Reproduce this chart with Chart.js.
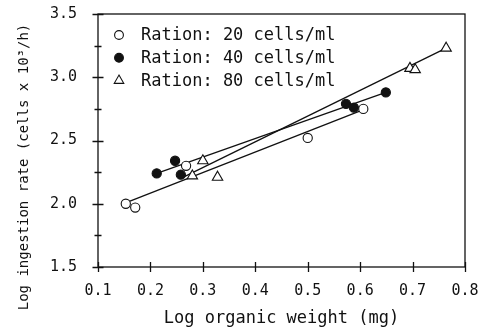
<!DOCTYPE html>
<html>
<head>
<meta charset="utf-8">
<title>Log ingestion rate vs log organic weight</title>
<script src="https://cdn.jsdelivr.net/npm/chart.js@4.4.0/dist/chart.umd.min.js"></script>
<style>
  html, body { margin: 0; padding: 0; background: #fff; }
</style>
</head>
<body>
<canvas id="chart" width="483" height="329"></canvas>
<script>
// --- data ---
const ration20X = [0.153, 0.171, 0.268, 0.500, 0.606];
const ration20Y = [2.00, 1.97, 2.30, 2.52, 2.75];

const ration40X = [0.212, 0.247, 0.258, 0.573, 0.588, 0.649];
const ration40Y = [2.24, 2.34, 2.23, 2.79, 2.76, 2.88];

const ration80X = [0.280, 0.300, 0.328, 0.695, 0.705, 0.764];
const ration80Y = [2.22, 2.34, 2.21, 3.07, 3.06, 3.23];

// regression line end points (x, y pairs)
const fit20X = [0.161, 0.604];
const fit20Y = [2.02, 2.74];
const fit40X = [0.212, 0.649];
const fit40Y = [2.24, 2.88];
const fit80X = [0.258, 0.764];
const fit80Y = [2.20, 3.23];

const seriesLabels = [
  "Ration: 20 cells/ml",
  "Ration: 40 cells/ml",
  "Ration: 80 cells/ml",
];
const xTitle = "Log organic weight (mg)";
const yTitle = "Log ingestion rate (cells x 10\u00b3/h)";

const xTicks = { min: 0.1, max: 0.8, step: 0.1 };
const yTicks = { min: 1.5, max: 3.5, step: 0.25 };

const ink = "#111";
const mono = "'DejaVu Sans Mono', monospace";

const toPoints = (xs, ys) => xs.map((x, i) => ({ x: x, y: ys[i] }));

// only every 0.5 on the y axis gets a label, the rest are minor ticks
const isMajorY = (v) => Math.abs(v * 2 - Math.round(v * 2)) < 1e-6;

/**
 * Draws one legend marker the same way as the data points
 */
const drawMarker = (ctx, style, x, y) => {
  ctx.beginPath();
  if (style === "triangle") {
    const r = 5.5;
    ctx.moveTo(x, y - r);
    ctx.lineTo(x + r * 0.866, y + r * 0.5);
    ctx.lineTo(x - r * 0.866, y + r * 0.5);
    ctx.closePath();
    ctx.fillStyle = "#fff";
  } else {
    ctx.arc(x, y, 4.4, 0, Math.PI * 2);
    ctx.fillStyle = style === "filled" ? ink : "#fff";
  }
  ctx.fill();
  ctx.stroke();
};

// frame, crossing tick marks, legend in the corner and the y title
const framePlugin = {
  id: "framePlugin",
  afterDraw(chart) {
    const { ctx, chartArea: a, scales } = chart;
    ctx.save();
    ctx.strokeStyle = ink;
    ctx.lineWidth = 1.3;
    ctx.strokeRect(a.left, a.top, a.right - a.left, a.bottom - a.top);

    ctx.beginPath();
    scales.x.ticks.forEach((t) => {
      const px = Math.round(scales.x.getPixelForValue(t.value)) + 0.5;
      ctx.moveTo(px, a.bottom - 5);
      ctx.lineTo(px, a.bottom + 5);
    });
    scales.y.ticks.forEach((t) => {
      const py = Math.round(scales.y.getPixelForValue(t.value)) + 0.5;
      const len = isMajorY(t.value) ? 5.5 : 3.5;
      ctx.moveTo(a.left - len, py);
      ctx.lineTo(a.left + len, py);
    });
    ctx.stroke();

    // legend
    const styles = ["open", "filled", "triangle"];
    ctx.lineWidth = 1.1;
    ctx.font = "17px " + mono;
    ctx.textBaseline = "middle";
    ctx.textAlign = "left";
    seriesLabels.forEach((label, i) => {
      const y = a.top + 21 + i * 22.8;
      drawMarker(ctx, styles[i], a.left + 21, y);
      ctx.fillStyle = ink;
      ctx.fillText(label, a.left + 43, y + 1);
    });

    // y axis title, centred a little below the plot middle as in the original
    ctx.translate(24, 167);
    ctx.rotate(-Math.PI / 2);
    ctx.font = "14px " + mono;
    ctx.textAlign = "center";
    ctx.fillStyle = ink;
    ctx.fillText(yTitle, 0, 0);
    ctx.restore();
  },
};

const pointSet = (label, xs, ys, style, fill, radius) => ({
  label: label,
  data: toPoints(xs, ys),
  pointStyle: style,
  pointRadius: radius,
  pointBackgroundColor: fill,
  pointBorderColor: ink,
  pointBorderWidth: 1.1,
  showLine: false,
});

const lineSet = (xs, ys) => ({
  label: "",
  data: toPoints(xs, ys),
  showLine: true,
  borderColor: ink,
  borderWidth: 1.3,
  pointRadius: 0,
});

const renderChart = () => {
  const canvas = document.getElementById("chart");

  new Chart(canvas, {
    type: "scatter",
    data: {
      datasets: [
        pointSet(seriesLabels[0], ration20X, ration20Y, "circle", "#fff", 4.6),
        pointSet(seriesLabels[1], ration40X, ration40Y, "circle", ink, 4.6),
        pointSet(seriesLabels[2], ration80X, ration80Y, "triangle", "#fff", 6),
        lineSet(fit20X, fit20Y),
        lineSet(fit40X, fit40Y),
        lineSet(fit80X, fit80Y),
      ],
    },
    options: {
      responsive: false,
      animation: false,
      layout: { padding: { top: 14, right: 18, left: 0, bottom: 0 } },
      plugins: {
        legend: { display: false },
        tooltip: { enabled: false },
      },
      scales: {
        x: {
          type: "linear",
          min: xTicks.min,
          max: xTicks.max,
          grid: { display: false, drawTicks: false },
          border: { display: false },
          ticks: {
            stepSize: xTicks.step,
            autoSkip: false,
            maxRotation: 0,
            padding: 15,
            color: ink,
            font: { family: mono, size: 15 },
            callback: (v) => v.toFixed(1),
          },
          title: {
            display: true,
            text: xTitle,
            color: ink,
            font: { family: mono, size: 17 },
            padding: { top: 0, bottom: 0 },
          },
          afterFit: (s) => {
            s.height = 62;
            s.paddingLeft = 0;
            s.paddingRight = 0;
          },
        },
        y: {
          min: yTicks.min,
          max: yTicks.max,
          grid: { display: false, drawTicks: false },
          border: { display: false },
          ticks: {
            stepSize: yTicks.step,
            autoSkip: false,
            padding: 21,
            color: ink,
            font: { family: mono, size: 15 },
            callback: (v) => (isMajorY(v) ? v.toFixed(1) : ""),
          },
          afterFit: (s) => {
            s.width = 98;
            s.paddingTop = 0;
            s.paddingBottom = 0;
          },
        },
      },
    },
    plugins: [framePlugin],
  });
};

window.addEventListener("load", renderChart);
</script>
</body>
</html>
